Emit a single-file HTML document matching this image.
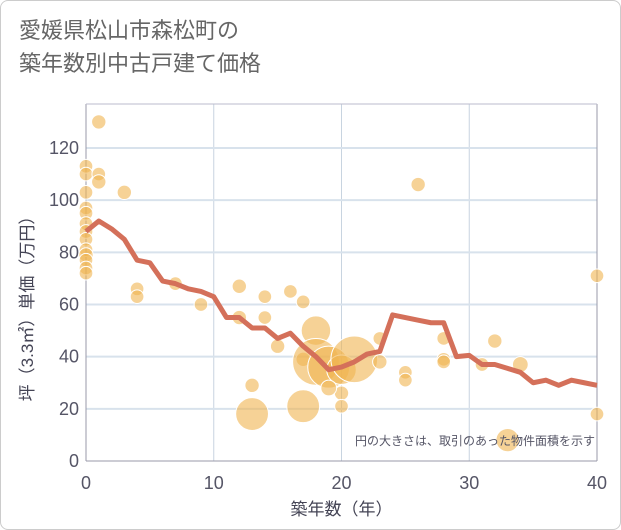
<!DOCTYPE html>
<html><head><meta charset="utf-8"><style>
body{margin:0;background:#fff;font-family:"Liberation Sans","Noto Sans CJK JP",sans-serif;}
#wrap{position:relative;width:619px;height:528px;border:1px solid #ccc;border-radius:8px;overflow:hidden;background:#fff}
#title{position:absolute;left:18px;top:13px;font-size:22px;line-height:33px;color:#666;font-family:"Liberation Sans","Noto Sans CJK JP",sans-serif;}
svg{position:absolute;left:0;top:0}
</style></head><body>
<div id="wrap">
<div id="title">愛媛県松山市森松町の<br>築年数別中古戸建て価格</div>
<svg id="chart" width="621" height="530"></svg>
</div>
<script>
const xTicks=[0,10,20,30,40];
const yTicks=[0,20,40,60,80,100,120];
const lineAges=[0,1,2,3,4,5,6,7,8,9,10,11,12,13,14,15,16,17,18,19,20,21,22,23,24,25,26,27,28,29,30,31,32,33,34,35,36,37,38,39,40];
const lineValues=[88,92,89,85,77,76,69,68,66,65,63,55,55,51,51,47,49,44,40,35,36,38,41,42,56,55,54,53,53,40,40.5,37,37,35.5,34,30,31,29,31,30,29];
const bubbleAges=[1,0,0,1,1,3,0,0,0,0,0,0,0,0,0,0,0,4,4,7,9,12,12,14,14,15,16,17,17,18,18,19,20,21,13,13,17,20,20,19,23,23,25,25,26,28,28,28,31,32,34,33,40,40];
const bubbleValues=[130,113,110,110,107,103,103,97,95,91,88,85,81,79,77,74,72,66,63,68,60,67,55,63,55,44,65,61,39,50,38,36,35,39,29,18,21,26,21,28,47,38,34,31,106,47,39,38,37,46,37,8,71,18];
const bubbleAreas=[100,90,90,90,100,100,90,90,90,90,90,90,90,100,90,90,90,90,90,90,90,100,100,90,90,100,90,90,100,420,1050,850,420,1050,100,520,520,100,90,120,90,100,90,90,100,90,90,90,90,100,120,260,90,90];
const X0=85,X1=596,Y0=460,Y1=147;
const sx=v=>X0+(X1-X0)*v/40;
const sy=v=>Y0-(Y0-Y1)*v/120;
const rr=a=>0.72*Math.sqrt(a);
const svg=document.getElementById('chart');
const NS='http://www.w3.org/2000/svg';
function mk(t,a){const e=document.createElementNS(NS,t);for(const k in a)e.setAttribute(k,a[k]);svg.appendChild(e);return e;}
xTicks.forEach(v=>{
const g=mk('line',{x1:sx(v),x2:sx(v),y1:103,y2:Y0,stroke:'#c8d4e0','stroke-width':1});


const t=mk('text',{x:sx(v),y:488,'text-anchor':'middle','font-size':18,fill:'#556'});
t.textContent=v;


});
yTicks.forEach(v=>{
const g=mk('line',{x1:X0,x2:X1,y1:sy(v),y2:sy(v),stroke:'#d8e2ec','stroke-width':v===0?0:2});


const t=mk('text',{x:78,y:sy(v)+6,'text-anchor':'end','font-size':18,fill:'#556'});
t.textContent=v;


});
const ax=mk('line',{x1:X0,x2:X0,y1:103,y2:Y0,stroke:'#99a',"stroke-width":1});


const ax2=mk('line',{x1:X0,x2:X1,y1:Y0,y2:Y0,stroke:'#99a',"stroke-width":1});


const ax3=mk('line',{x1:X1,x2:X1,y1:103,y2:Y0,stroke:'#99a',"stroke-width":1});


const ax4=mk('line',{x1:X0,x2:X1,y1:103,y2:103,stroke:'#bbc',"stroke-width":1});


bubbleAges.forEach((a,i)=>{
const c=mk('circle',{cx:sx(a),cy:sy(bubbleValues[i]),r:rr(bubbleAreas[i]),fill:'rgba(240,180,80,0.6)',stroke:'#fff','stroke-width':1});


});
const pts=lineAges.map((a,i)=>sx(a)+','+sy(lineValues[i])).join(' ');
const pl=mk('polyline',{points:pts,fill:'none',stroke:'#d4705a','stroke-width':5,'stroke-linejoin':'round'});


const xt=mk('text',{x:sx(20),y:514,'text-anchor':'middle','font-size':17,fill:'#445'});
xt.textContent='築年数（年）';


const yt=mk('text',{x:0,y:0,'text-anchor':'middle','font-size':17,fill:'#445',transform:'translate(32,'+sy(60)+') rotate(-90)'});
yt.textContent='坪（3.3㎡）単価（万円）';


const nt=mk('text',{x:594,y:444,'text-anchor':'end','font-size':12,fill:'#556'});
nt.textContent='円の大きさは、取引のあった物件面積を示す';


</script>
</body></html>
